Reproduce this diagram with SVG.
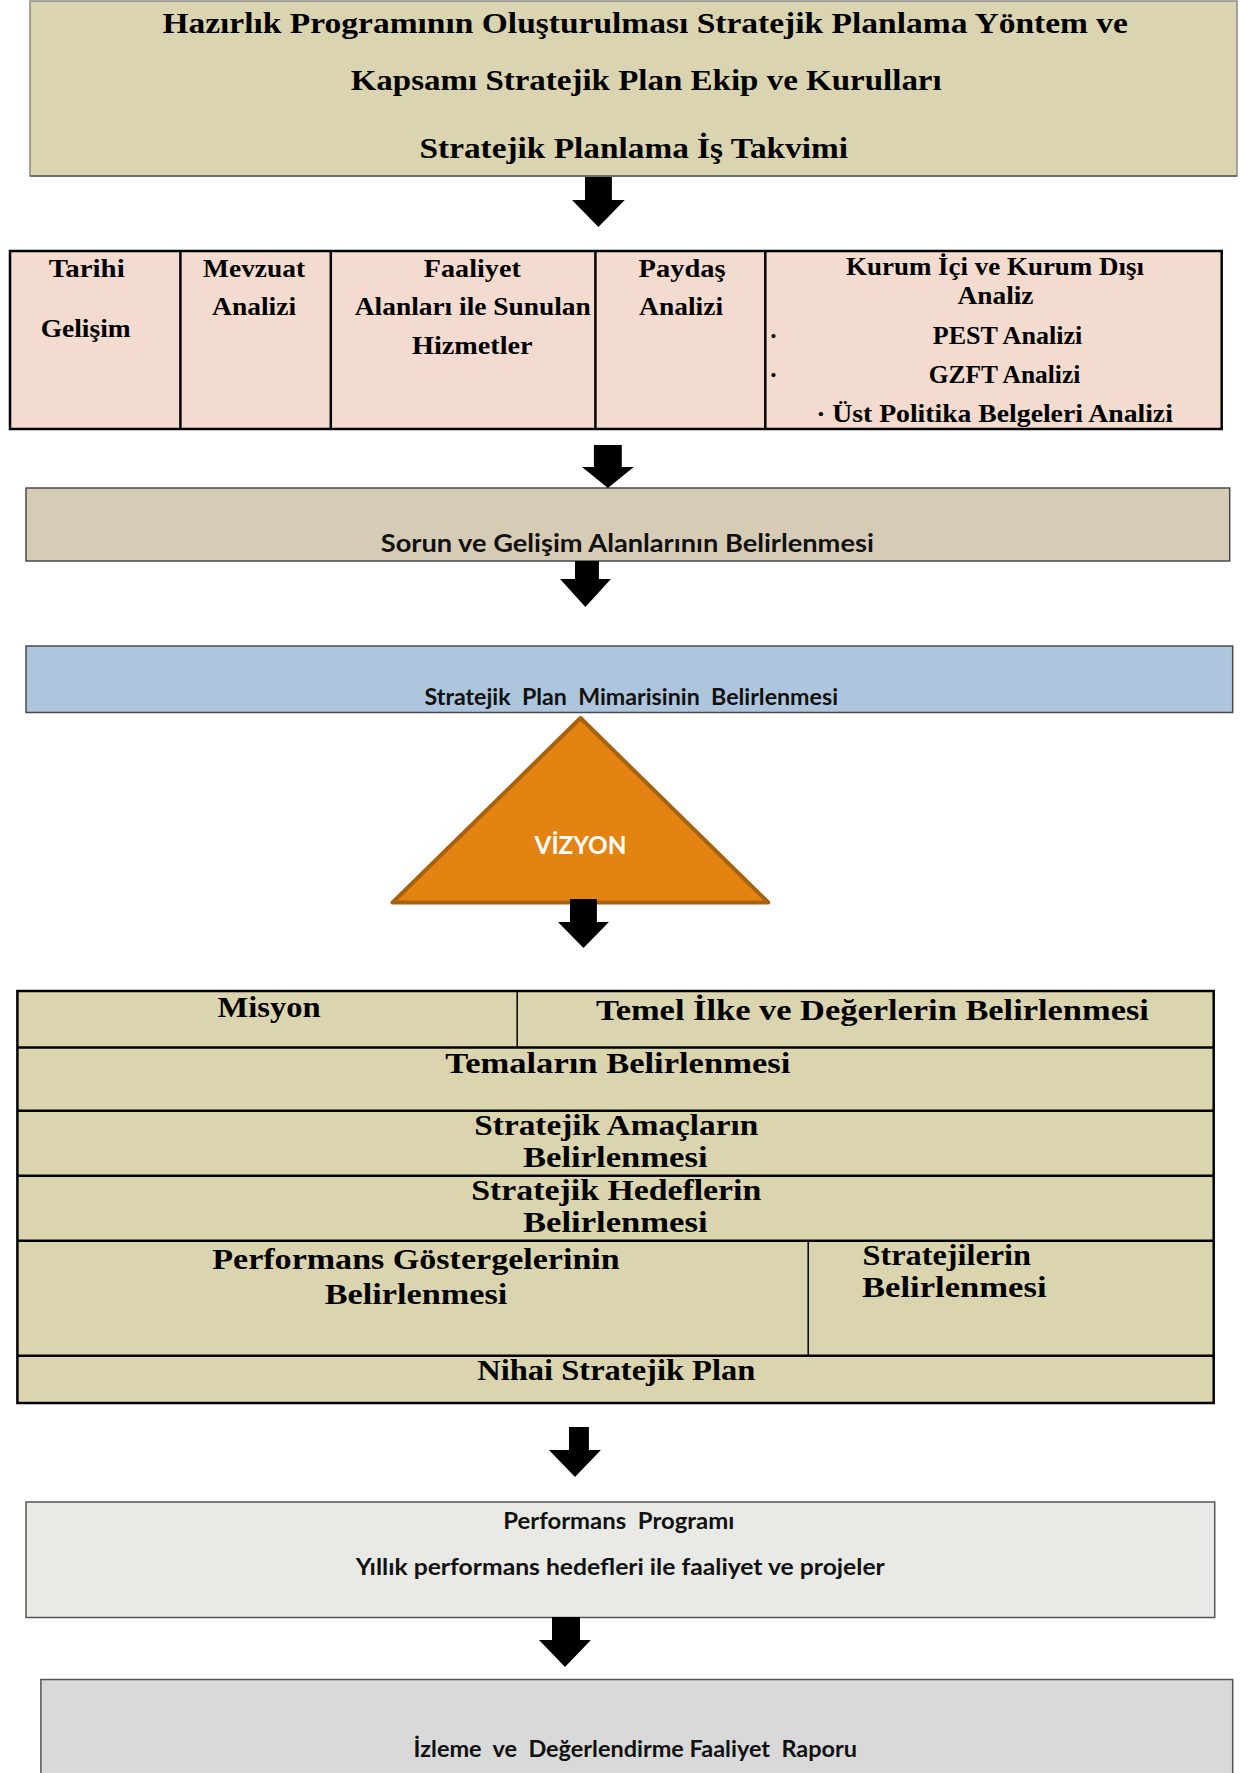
<svg xmlns="http://www.w3.org/2000/svg" width="1244" height="1773" viewBox="0 0 1244 1773">
<style>
.sf{font-family:"Liberation Serif","Times New Roman",serif;font-weight:bold;fill:#000}
.ss{font-family:Lato,"Liberation Sans",Arial,sans-serif;font-weight:bold;fill:#111;white-space:pre}
.c{text-anchor:middle}
.t30{font-size:30px}
.t25{font-size:25px}
.line{stroke:#000;stroke-width:2.5;fill:none}
.arrow{fill:#000}
</style>
<rect width="1244" height="1773" fill="#fff"/>

<g id="n-hazirlik">
  <rect x="30" y="1" width="1207" height="175" fill="#DAD5B0" stroke="#8a8a88" stroke-width="1.5"/>
  <line x1="30" y1="176" x2="1237" y2="176" stroke="#6f6f6a" stroke-width="2"/>
  <text class="sf t30 c" x="645.2" y="33" textLength="965.6" lengthAdjust="spacingAndGlyphs">Hazırlık Programının Oluşturulması Stratejik Planlama Yöntem ve</text>
  <text class="sf t30 c" x="646.2" y="90" textLength="591" lengthAdjust="spacingAndGlyphs">Kapsamı Stratejik Plan Ekip ve Kurulları</text>
  <text class="sf t30 c" x="633.8" y="158" textLength="428.5" lengthAdjust="spacingAndGlyphs">Stratejik Planlama İş Takvimi</text>
</g>

<g id="n-analiz">
  <rect x="10" y="251" width="1211.7" height="178" fill="#F3DBCF" stroke="#000" stroke-width="2.5"/>
  <line class="line" x1="180.4" y1="251" x2="180.4" y2="429"/>
  <line class="line" x1="330.8" y1="251" x2="330.8" y2="429"/>
  <line class="line" x1="595.4" y1="251" x2="595.4" y2="429"/>
  <line class="line" x1="765.3" y1="251" x2="765.3" y2="429"/>
  <text class="sf t25 c" x="86.7" y="277" textLength="76" lengthAdjust="spacingAndGlyphs">Tarihi</text>
  <text class="sf t25 c" x="85.7" y="337" textLength="90" lengthAdjust="spacingAndGlyphs">Gelişim</text>
  <text class="sf t25 c" x="254.1" y="277" textLength="102" lengthAdjust="spacingAndGlyphs">Mevzuat</text>
  <text class="sf t25 c" x="254.1" y="315" textLength="84" lengthAdjust="spacingAndGlyphs">Analizi</text>
  <text class="sf t25 c" x="472.3" y="277" textLength="97" lengthAdjust="spacingAndGlyphs">Faaliyet</text>
  <text class="sf t25 c" x="472.8" y="315" textLength="236" lengthAdjust="spacingAndGlyphs">Alanları ile Sunulan</text>
  <text class="sf t25 c" x="472.3" y="354" textLength="120.5" lengthAdjust="spacingAndGlyphs">Hizmetler</text>
  <text class="sf t25 c" x="682.1" y="277" textLength="87" lengthAdjust="spacingAndGlyphs">Paydaş</text>
  <text class="sf t25 c" x="681.1" y="315" textLength="84" lengthAdjust="spacingAndGlyphs">Analizi</text>
  <text class="sf t25 c" x="995" y="275" textLength="298" lengthAdjust="spacingAndGlyphs">Kurum İçi ve Kurum Dışı</text>
  <text class="sf t25 c" x="995.5" y="304" textLength="76" lengthAdjust="spacingAndGlyphs">Analiz</text>
  <text class="sf t25" x="769.3" y="344">·</text>
  <text class="sf t25 c" x="1007.5" y="344" textLength="149.5" lengthAdjust="spacingAndGlyphs">PEST Analizi</text>
  <text class="sf t25" x="769.3" y="383">·</text>
  <text class="sf t25 c" x="1004.5" y="383" textLength="151.5" lengthAdjust="spacingAndGlyphs">GZFT Analizi</text>
  <text class="sf t25 c" x="994.5" y="422" textLength="356.7" lengthAdjust="spacingAndGlyphs">· Üst Politika Belgeleri Analizi</text>
</g>

<g id="n-sorun">
  <rect x="26" y="488" width="1203.7" height="73" fill="#D6CCB6" stroke="#4a4a4a" stroke-width="1.5"/>
  <text class="ss c" font-size="24" x="627.3" y="552" textLength="493" lengthAdjust="spacingAndGlyphs">Sorun ve Gelişim Alanlarının Belirlenmesi</text>
</g>

<g id="n-mimari">
  <rect x="26" y="646" width="1206.7" height="66.5" fill="#ADC6DD" stroke="#4a4a4a" stroke-width="1.5"/>
  <text class="ss c" font-size="22" x="631.3" y="705" textLength="413.5" lengthAdjust="spacingAndGlyphs">Stratejik  Plan  Mimarisinin  Belirlenmesi</text>
</g>

<g id="n-vizyon">
  <polygon points="580.5,718 392.6,902.5 768.3,902.5" fill="#E28312" stroke="#A8610D" stroke-width="4" stroke-linejoin="round"/>
  <text class="ss c" font-size="25" x="580.5" y="854" textLength="92" lengthAdjust="spacingAndGlyphs" style="fill:#fff">VİZYON</text>
</g>

<g id="n-plan">
  <rect x="17.4" y="991" width="1196.3" height="412" fill="#DBD5AF" stroke="#000" stroke-width="2.5"/>
  <line class="line" x1="17.4" y1="1047.5" x2="1213.7" y2="1047.5"/>
  <line class="line" x1="17.4" y1="1110.7" x2="1213.7" y2="1110.7"/>
  <line class="line" x1="17.4" y1="1175.7" x2="1213.7" y2="1175.7"/>
  <line class="line" x1="17.4" y1="1240.7" x2="1213.7" y2="1240.7"/>
  <line class="line" x1="17.4" y1="1355.7" x2="1213.7" y2="1355.7"/>
  <line x1="517.2" y1="991" x2="517.2" y2="1047.5" stroke="#000" stroke-width="1.5"/>
  <line x1="808.2" y1="1240.7" x2="808.2" y2="1355.7" stroke="#000" stroke-width="1.5"/>
  <text class="sf t30 c" x="269" y="1017" textLength="103" lengthAdjust="spacingAndGlyphs">Misyon</text>
  <text class="sf t30 c" x="872.4" y="1020" textLength="553" lengthAdjust="spacingAndGlyphs">Temel İlke ve Değerlerin Belirlenmesi</text>
  <text class="sf t30 c" x="617.8" y="1073" textLength="345" lengthAdjust="spacingAndGlyphs">Temaların Belirlenmesi</text>
  <text class="sf t30 c" x="616.3" y="1135" textLength="284" lengthAdjust="spacingAndGlyphs">Stratejik Amaçların</text>
  <text class="sf t30 c" x="615.3" y="1167" textLength="184.5" lengthAdjust="spacingAndGlyphs">Belirlenmesi</text>
  <text class="sf t30 c" x="616.3" y="1200" textLength="290" lengthAdjust="spacingAndGlyphs">Stratejik Hedeflerin</text>
  <text class="sf t30 c" x="615.3" y="1232" textLength="184.5" lengthAdjust="spacingAndGlyphs">Belirlenmesi</text>
  <text class="sf t30 c" x="416" y="1269" textLength="407.5" lengthAdjust="spacingAndGlyphs">Performans Göstergelerinin</text>
  <text class="sf t30 c" x="416" y="1304" textLength="182.5" lengthAdjust="spacingAndGlyphs">Belirlenmesi</text>
  <text class="sf t30" x="862.5" y="1265" textLength="168.5" lengthAdjust="spacingAndGlyphs">Stratejilerin</text>
  <text class="sf t30" x="862" y="1297" textLength="184.5" lengthAdjust="spacingAndGlyphs">Belirlenmesi</text>
  <text class="sf t30 c" x="616.3" y="1380" textLength="278" lengthAdjust="spacingAndGlyphs">Nihai Stratejik Plan</text>
</g>

<g id="n-performans">
  <rect x="26" y="1502" width="1188.7" height="115.5" fill="#E9EAE5" stroke="#555" stroke-width="1.5"/>
  <text class="ss c" font-size="23" x="618.8" y="1529" textLength="231" lengthAdjust="spacingAndGlyphs">Performans  Programı</text>
  <text class="ss c" font-size="23" x="620.3" y="1575" textLength="529" lengthAdjust="spacingAndGlyphs">Yıllık performans hedefleri ile faaliyet ve projeler</text>
</g>

<g id="n-izleme">
  <rect x="40.9" y="1679.5" width="1191.8" height="100" fill="#D9D9D9" stroke="#555" stroke-width="1.5"/>
  <text class="ss c" font-size="23" x="635.3" y="1757" textLength="443.5" lengthAdjust="spacingAndGlyphs">İzleme  ve  Değerlendirme Faaliyet  Raporu</text>
</g>

<g id="connectors">
  <polygon class="arrow" points="585,177 611.9,177 611.9,200 624.8,200 598.4,227 572,200 585,200"/>
  <polygon class="arrow" points="593.9,445 621.8,445 621.8,467 633.8,467 607.9,488 582,467 593.9,467"/>
  <polygon class="arrow" points="575,561 598.9,561 598.9,579 610.9,579 585.4,607 560,579 575,579"/>
  <polygon class="arrow" points="570,899 596.9,899 596.9,922 608.9,922 583.5,948 558,922 570,922"/>
  <polygon class="arrow" points="569,1427 588.9,1427 588.9,1450 600.9,1450 575,1477 549,1450 569,1450"/>
  <polygon class="arrow" points="552,1617 580,1617 580,1640 590.9,1640 565,1667 539,1640 552,1640"/>
</g>
</svg>
